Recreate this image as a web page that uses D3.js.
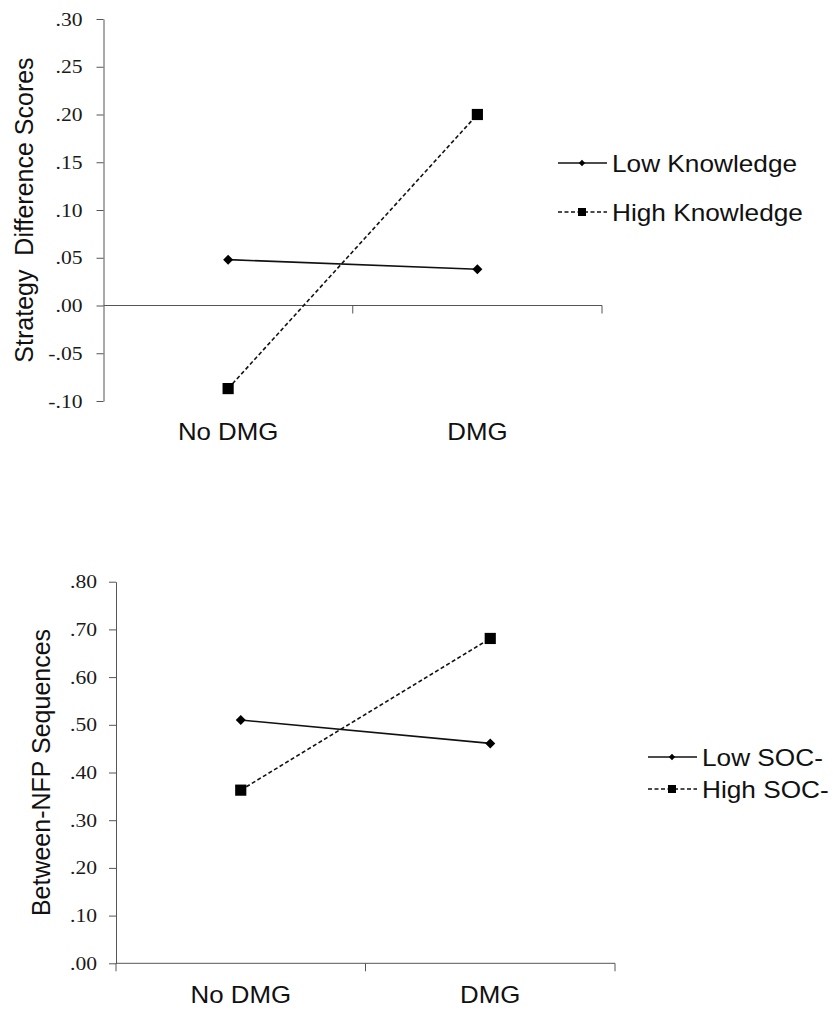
<!DOCTYPE html>
<html>
<head>
<meta charset="utf-8">
<script src="https://cdn.jsdelivr.net/npm/d3@7"></script>
<style>
  body { margin: 0; background: #fff; }
</style>
</head>
<body>
<script>
/* ---- data ---- */
var conditions = ["No DMG", "DMG"];

// top panel: strategy difference scores
var topLowKnowledge = [0.048, 0.038];
var topHighKnowledge = [-0.087, 0.200];
var topTicks = [-0.10, -0.05, 0.00, 0.05, 0.10, 0.15, 0.20, 0.25, 0.30];
var topSeriesNames = ["Low Knowledge", "High Knowledge"];

// bottom panel: between-NFP sequences
var botLowSoc = [0.51, 0.461];
var botHighSoc = [0.363, 0.681];
var botTicks = [0.00, 0.10, 0.20, 0.30, 0.40, 0.50, 0.60, 0.70, 0.80];
var botSeriesNames = ["Low SOC-", "High SOC-"];

var svg = d3.select("body").append("svg")
    .attr("width", 833)
    .attr("height", 1011);

var axisColor = "#555";
var sansFont = "Liberation Sans, Arial, sans-serif";
var serifFont = "Liberation Serif, Times New Roman, serif";

// formats .30, -.05 etc.
function fmtTick(v) {
    var s = Math.abs(v).toFixed(2).replace(/^0/, "");
    return (v < 0 ? "-" : "") + s;
}

// square turned 45 degrees, wider than d3's own diamond
var wideDiamond = {
    draw: function(ctx, size) {
        var r = Math.sqrt(size) / 2;
        ctx.moveTo(0, -r);
        ctx.lineTo(r, 0);
        ctx.lineTo(0, r);
        ctx.lineTo(-r, 0);
        ctx.closePath();
    }
};

// horizontal text, a bit stretched sideways like the original figure
function addText(parent, x, y, str, size, sx, anchor, font) {
    return parent.append("text")
        .attr("transform", "translate(" + x + "," + y + ") scale(" + sx + ",1)")
        .attr("text-anchor", anchor || "start")
        .attr("font-family", font || sansFont)
        .attr("font-size", size)
        .attr("fill", "#111")
        .text(str);
}

/*
  draws one panel: y axis on the left, x axis at base value, two series with markers, legend
*/
function drawPanel(opt) {
    var x = d3.scaleBand().domain(conditions).range([opt.left, opt.right]);
    var y = d3.scaleLinear().domain(opt.domain).range([opt.bottom, opt.top]);
    var g = svg.append("g");

    // y axis (labels drawn separately below)
    var yAxis = d3.axisLeft(y).tickValues(opt.ticks).tickSize(7).tickSizeOuter(0).tickFormat("");
    var ya = g.append("g").attr("transform", "translate(" + opt.left + ",0)").call(yAxis);
    ya.select(".domain").attr("stroke", axisColor);
    ya.selectAll(".tick line").attr("stroke", axisColor);

    opt.ticks.forEach(function(t) {
        addText(g, opt.left + opt.tickGap, y(t) + 6.5, fmtTick(t), 18, 1.2, "end", serifFont)
            .attr("fill", "#1a1a1a");
    });

    // x axis with ticks at band edges
    var xBase = y(opt.base);
    g.append("line")
        .attr("x1", opt.left).attr("x2", opt.right)
        .attr("y1", xBase).attr("y2", xBase)
        .attr("stroke", axisColor);
    var edges = [opt.left + x.bandwidth(), opt.right];
    if (opt.leftTick) edges.unshift(opt.left);
    g.selectAll(".xedge").data(edges).enter().append("line")
        .attr("x1", function(d) { return d; })
        .attr("x2", function(d) { return d; })
        .attr("y1", xBase).attr("y2", xBase + 8)
        .attr("stroke", axisColor);

    // category labels
    conditions.forEach(function(c) {
        addText(g, x(c) + x.bandwidth() / 2, opt.catY, c, 23.5, 1.1, "middle");
    });

    // y title
    g.append("text")
        .attr("transform", "translate(" + opt.titleX + "," + ((opt.top + opt.bottom) / 2) + ") rotate(-90)")
        .attr("text-anchor", "middle")
        .attr("font-family", sansFont)
        .attr("font-size", 25)
        .style("white-space", "pre")
        .attr("fill", "#111")
        .text(opt.title);

    var line = d3.line()
        .x(function(d, i) { return x(conditions[i]) + x.bandwidth() / 2; })
        .y(function(d) { return y(d); });

    var series = [
        { vals: opt.low, dash: null, sym: wideDiamond, size: 100, legSize: 40 },
        { vals: opt.high, dash: "4,2.5", sym: d3.symbolSquare, size: 125, legSize: 64 }
    ];

    series.forEach(function(s) {
        g.append("path")
            .attr("d", line(s.vals))
            .attr("fill", "none")
            .attr("stroke", "#111")
            .attr("stroke-width", 1.6)
            .attr("stroke-dasharray", s.dash);
        g.selectAll(null).data(s.vals).enter().append("path")
            .attr("d", d3.symbol().type(s.sym).size(s.size))
            .attr("transform", function(d, i) {
                return "translate(" + (x(conditions[i]) + x.bandwidth() / 2) + "," + y(d) + ")";
            })
            .attr("fill", "#000");
    });

    // legend
    series.forEach(function(s, i) {
        var ly = opt.legendY[i];
        g.append("line")
            .attr("x1", opt.legendX).attr("x2", opt.legendX + 49)
            .attr("y1", ly).attr("y2", ly)
            .attr("stroke", "#111")
            .attr("stroke-width", 1.4)
            .attr("stroke-dasharray", s.dash ? "4,2.5" : null);
        g.append("path")
            .attr("d", d3.symbol().type(s.sym).size(s.legSize))
            .attr("transform", "translate(" + (opt.legendX + 24) + "," + ly + ")")
            .attr("fill", "#000");
        addText(g, opt.legendX + 54, ly + 8.5, opt.names[i], 23, 1.14, "start");
    });
}

drawPanel({
    left: 103.5, right: 602, top: 19, bottom: 401,
    domain: [-0.10, 0.30], ticks: topTicks, base: 0,
    low: topLowKnowledge, high: topHighKnowledge,
    names: topSeriesNames,
    title: "Strategy  Difference Scores", titleX: 33,
    catY: 440, leftTick: false, tickGap: -21,
    legendX: 558, legendY: [163, 212]
});

drawPanel({
    left: 116, right: 615, top: 581.7, bottom: 963.3,
    domain: [0, 0.80], ticks: botTicks, base: 0,
    low: botLowSoc, high: botHighSoc,
    names: botSeriesNames,
    title: "Between-NFP Sequences", titleX: 50,
    catY: 1003, leftTick: true, tickGap: -19,
    legendX: 648, legendY: [757, 789]
});
</script>
</body>
</html>
